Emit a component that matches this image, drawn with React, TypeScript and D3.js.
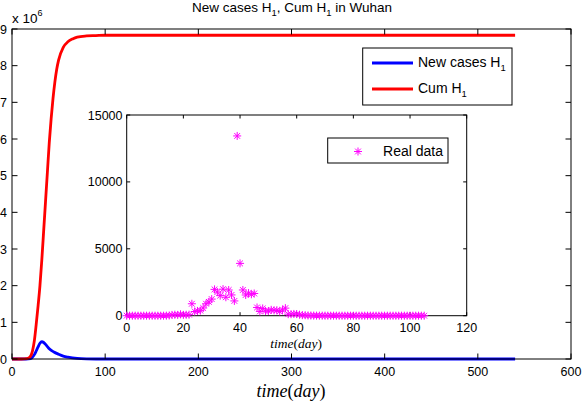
import React from "react";
import * as d3 from "d3";

// ---- data ----
const cumDays = [0, 10, 16, 20, 22, 24, 26, 28, 30, 32, 34, 36, 38, 40, 42, 44, 46, 48, 50, 55, 60, 65, 70, 80, 90, 100, 120, 540];
const cumH1 = [0, 0, 0.01, 0.08, 0.22, 0.5, 0.95, 1.45, 2.0, 2.7, 3.5, 4.3, 5.1, 5.9, 6.55, 7.1, 7.55, 7.9, 8.15, 8.5, 8.65, 8.73, 8.78, 8.81, 8.82, 8.83, 8.83, 8.83];
const newDays = [0, 15, 20, 22, 24, 26, 28, 30, 32, 34, 36, 38, 40, 45, 50, 55, 60, 70, 80, 100, 540];
const newH1 = [0, 0, 0.01, 0.05, 0.12, 0.22, 0.33, 0.43, 0.47, 0.45, 0.4, 0.34, 0.28, 0.19, 0.13, 0.08, 0.05, 0.015, 0.005, 0, 0];
const realData = [
  0, 0, 0, 0, 0, 0, 0, 0, 0, 0, 0, 0, 0, 0,
  4, 17, 59, 77, 60, 105, 62, 70, 77,
  892, 315, 356, 378, 576, 894, 1033, 1242, 1967, 1766, 1501, 1985, 1379, 1920, 1552, 1104,
  13436, 3910, 1923, 1548, 1690, 1600, 1660, 615, 319, 541, 348, 348, 439, 401, 409, 318, 423, 565,
  114, 114, 131, 126, 74, 41, 36, 17, 13, 8, 5, 4, 4, 4, 3, 2, 2, 1, 1, 1, 0, 0, 0, 0, 0, 0,
  0, 0, 0, 0, 0, 0, 0, 0, 0, 0, 0, 0, 0, 0, 0, 0, 0, 0, 0, 0, 0, 0, 0, 0, 0, 0, 0, 0, 0, 0
].slice(0, 106);
const mainXTicks = [0, 100, 200, 300, 400, 500, 600];
const mainYTicks = [0, 1, 2, 3, 4, 5, 6, 7, 8, 9];
const insetXTicks = [0, 20, 40, 60, 80, 100, 120];
const insetYTicks = [0, 5000, 10000, 15000];

const FONT = "'Liberation Sans', Arial, Helvetica, sans-serif";
const SERIF = "'Liberation Serif', 'DejaVu Serif', serif";

function Asterisk({ x, y, r = 4 }: { x: number; y: number; r?: number }) {
  const d = r * 0.72;
  return (
    <g stroke="#ff00ff" strokeWidth={1}>
      <line x1={x - r} y1={y} x2={x + r} y2={y} />
      <line x1={x} y1={y - r} x2={x} y2={y + r} />
      <line x1={x - d} y1={y - d} x2={x + d} y2={y + d} />
      <line x1={x - d} y1={y + d} x2={x + d} y2={y - d} />
    </g>
  );
}

export default function App() {
  const x = d3.scaleLinear().domain([0, 600]).range([12, 571]);
  const y = d3.scaleLinear().domain([0, 9]).range([359, 29]);
  const ix = d3.scaleLinear().domain([0, 120]).range([126.7, 466.7]);
  const iy = d3.scaleLinear().domain([0, 15000]).range([315.7, 115]);

  const line = d3.line<[number, number]>().x(d => x(d[0])).y(d => y(d[1])).curve(d3.curveMonotoneX);
  const cumPts = cumDays.map((t, i) => [t, cumH1[i]] as [number, number]);
  const newPts = newDays.map((t, i) => [t, newH1[i]] as [number, number]);

  const [mx0, mx1] = x.range();
  const [my0, my1] = y.range();
  const [ix0, ix1] = ix.range();
  const [iy0, iy1] = iy.range();
  const tl = 5.5;
  const itl = 3.5;

  return (
    <svg width={582} height={405} style={{ position: "absolute", left: 0, top: 0, background: "#fff" }} fontFamily={FONT}>
      <rect x={0} y={0} width={582} height={405} fill="#fff" />
      {/* title */}
      <text x={292} y={12} fontSize={13.5} textAnchor="middle">
        New cases H<tspan fontSize={9.5} dy={3.5}>1</tspan><tspan dy={-3.5}>, Cum H</tspan><tspan fontSize={9.5} dy={3.5}>1</tspan><tspan dy={-3.5}> in Wuhan</tspan>
      </text>
      <text x={12} y={23} fontSize={13.5}>
        x 10<tspan fontSize={9} dy={-7}>6</tspan>
      </text>

      {/* main plot lines */}
      <path d={line(newPts) || ""} fill="none" stroke="#0000ff" strokeWidth={2.8} />
      <path d={line(cumPts) || ""} fill="none" stroke="#ff0000" strokeWidth={2.8} />

      {/* main axes box */}
      <rect x={mx0} y={my1} width={mx1 - mx0} height={my0 - my1} fill="none" stroke="#000" strokeWidth={1} />
      {mainXTicks.map(t => (
        <g key={"mx" + t}>
          <line x1={x(t)} x2={x(t)} y1={my0} y2={my0 - tl} stroke="#000" />
          <line x1={x(t)} x2={x(t)} y1={my1} y2={my1 + tl} stroke="#000" />
          <text x={x(t)} y={376} fontSize={12.5} textAnchor="middle">{t}</text>
        </g>
      ))}
      {mainYTicks.map(t => (
        <g key={"my" + t}>
          <line x1={mx0} x2={mx0 + tl} y1={y(t)} y2={y(t)} stroke="#000" />
          <line x1={mx1} x2={mx1 - tl} y1={y(t)} y2={y(t)} stroke="#000" />
          <text x={7} y={y(t) + 4.5} fontSize={12.5} textAnchor="end">{t}</text>
        </g>
      ))}
      <text x={291} y={397} fontSize={18} textAnchor="middle" fontFamily={SERIF} fontStyle="italic">
        time<tspan fontStyle="normal">(</tspan>day<tspan fontStyle="normal">)</tspan>
      </text>

      {/* main legend */}
      <rect x={362.7} y={48} width={149.3} height={57} fill="#fff" stroke="#000" strokeWidth={1} />
      <line x1={372} x2={413} y1={63} y2={63} stroke="#0000ff" strokeWidth={2.8} />
      <line x1={372} x2={413} y1={89} y2={89} stroke="#ff0000" strokeWidth={2.8} />
      <text x={418} y={67} fontSize={14}>New cases H<tspan fontSize={9.5} dy={4}>1</tspan></text>
      <text x={418} y={93} fontSize={14}>Cum H<tspan fontSize={9.5} dy={4}>1</tspan></text>

      {/* inset */}
      <rect x={ix0} y={iy1} width={ix1 - ix0} height={iy0 - iy1} fill="#fff" stroke="#000" strokeWidth={1} />
      {insetXTicks.map(t => (
        <g key={"ix" + t}>
          <line x1={ix(t)} x2={ix(t)} y1={iy0} y2={iy0 - itl} stroke="#000" />
          <line x1={ix(t)} x2={ix(t)} y1={iy1} y2={iy1 + itl} stroke="#000" />
          <text x={ix(t)} y={331.5} fontSize={12.5} textAnchor="middle">{t}</text>
        </g>
      ))}
      {insetYTicks.map(t => (
        <g key={"iy" + t}>
          <line x1={ix0} x2={ix0 + itl} y1={iy(t)} y2={iy(t)} stroke="#000" />
          <line x1={ix1} x2={ix1 - itl} y1={iy(t)} y2={iy(t)} stroke="#000" />
          <text x={122.5} y={iy(t) + 4.5} fontSize={12.5} textAnchor="end">{t}</text>
        </g>
      ))}
      {realData.map((v, i) => (
        <Asterisk key={"rd" + i} x={ix(i)} y={iy(v)} />
      ))}
      <text x={296} y={348} fontSize={13.5} textAnchor="middle" fontFamily={SERIF} fontStyle="italic">
        time<tspan fontStyle="normal">(</tspan>day<tspan fontStyle="normal">)</tspan>
      </text>

      {/* inset legend */}
      <rect x={327.7} y={138} width={120.3} height={25} fill="#fff" stroke="#000" strokeWidth={1} />
      <Asterisk x={358} y={151.5} />
      <text x={443} y={156} fontSize={14} textAnchor="end">Real data</text>
    </svg>
  );
}
